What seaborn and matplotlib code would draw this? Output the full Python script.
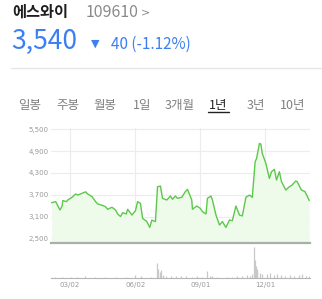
import matplotlib
matplotlib.use('Agg')
import matplotlib.pyplot as plt
from matplotlib.lines import Line2D
import seaborn as sns
import pandas as pd

# ---------------- data ----------------
price_dates = [
    '2020-02-05', '2020-02-11', '2020-02-17', '2020-02-20', '2020-02-21', '2020-02-26',
    '2020-02-28', '2020-03-05', '2020-03-10', '2020-03-13', '2020-03-19', '2020-03-24',
    '2020-03-27', '2020-04-02', '2020-04-07', '2020-04-10', '2020-04-16', '2020-04-21',
    '2020-04-24', '2020-04-30', '2020-05-05', '2020-05-08', '2020-05-12', '2020-05-15',
    '2020-05-20', '2020-05-22', '2020-05-28', '2020-06-02', '2020-06-05', '2020-06-09',
    '2020-06-12', '2020-06-18', '2020-06-22', '2020-06-25', '2020-06-30', '2020-07-03',
    '2020-07-07', '2020-07-10', '2020-07-16', '2020-07-21', '2020-07-24', '2020-07-28',
    '2020-07-31', '2020-08-06', '2020-08-11', '2020-08-14', '2020-08-20', '2020-08-21',
    '2020-08-27', '2020-09-01', '2020-09-04', '2020-09-09', '2020-09-11', '2020-09-16',
    '2020-09-18', '2020-09-23', '2020-09-28', '2020-10-02', '2020-10-07', '2020-10-12',
    '2020-10-16', '2020-10-21', '2020-10-26', '2020-10-30', '2020-11-04', '2020-11-09',
    '2020-11-13', '2020-11-17', '2020-11-19', '2020-11-23', '2020-11-25', '2020-11-27',
    '2020-12-02', '2020-12-07', '2020-12-10', '2020-12-14', '2020-12-17', '2020-12-21',
    '2020-12-24', '2020-12-30', '2021-01-04', '2021-01-08', '2021-01-13', '2021-01-15',
    '2021-01-21', '2021-01-26', '2021-02-01',
]
price_values = [
    3480, 3510, 3280, 3390, 3540, 3510,
    3555, 3630, 3720, 3690, 3740, 3780,
    3720, 3650, 3510, 3445, 3410, 3370,
    3300, 3355, 3280, 3170, 3100, 3205,
    3170, 3300, 3140, 3260, 3510, 3460,
    3050, 2960, 2800, 3000, 2960, 3920,
    3940, 3600, 3555, 3665, 3575, 3665,
    3600, 3630, 3785, 3850, 3555, 3300,
    3390, 3325, 3235, 3170, 3600, 3665,
    3555, 3140, 2865, 2960, 2800, 3005,
    2985, 3390, 3140, 3115, 3630, 3690,
    3630, 4610, 4700, 5115, 5095, 4840,
    4565, 4150, 4335, 4400, 4105, 4335,
    4060, 3830, 3920, 3970, 4080, 4060,
    3830, 3785, 3540,
]

vol_dates = [
    '2020-02-10', '2020-02-20', '2020-03-03', '2020-03-12', '2020-03-23', '2020-04-06',
    '2020-04-20', '2020-05-06', '2020-05-20', '2020-06-02', '2020-06-10', '2020-06-24',
    '2020-07-02', '2020-07-03', '2020-07-06', '2020-07-08', '2020-07-10', '2020-07-15',
    '2020-07-22', '2020-07-29', '2020-08-05', '2020-08-12', '2020-08-20', '2020-08-27',
    '2020-09-03', '2020-09-11', '2020-09-14', '2020-09-18', '2020-09-25', '2020-10-08',
    '2020-10-15', '2020-10-22', '2020-10-29', '2020-11-05', '2020-11-10', '2020-11-13',
    '2020-11-16', '2020-11-17', '2020-11-18', '2020-11-19', '2020-11-20', '2020-11-24',
    '2020-11-27', '2020-12-03', '2020-12-08', '2020-12-14', '2020-12-18', '2020-12-23',
    '2020-12-29', '2021-01-05', '2021-01-11', '2021-01-18', '2021-01-22', '2021-01-27',
    '2021-02-01',
]
vol_values = [
    60, 80, 100, 80, 120, 60,
    80, 60, 100, 250, 120, 100,
    1500, 900, 600, 800, 300, 200,
    150, 120, 150, 200, 100, 120,
    80, 700, 200, 150, 100, 80,
    100, 150, 120, 250, 200, 350,
    3100, 1800, 1200, 900, 600, 500,
    400, 350, 450, 300, 350, 250,
    200, 250, 200, 300, 400, 200,
    150,
]

y_ticks = [2500, 3100, 3700, 4300, 4900, 5500]
x_tick_dates = ['2020-03-02', '2020-06-02', '2020-09-01', '2020-12-01']
x_tick_labels = ['03/02', '06/02', '09/01', '12/01']
x_range = ['2020-02-04', '2021-02-02']

tabs = ['일봉', '주봉', '월봉', '1일', '3개월', '1년', '3년', '10년']
tab_x = [30, 67.5, 105, 142.5, 180, 218, 255.5, 293]
active_tab = '1년'

stock_name = '에스와이'
stock_code = '109610'
last_price = '3,540'
change_text = '40 (-1.12%)'

# ---------------- figure ----------------
sns.set_theme(style='white')
plt.rcParams['font.family'] = ['Noto Sans CJK KR', 'DejaVu Sans']

W, H = 322, 299
fig = plt.figure(figsize=(W / 100, H / 100), dpi=100)
fig.patch.set_facecolor('white')


def fx(x):
    return x / W


def fy(y):
    return 1 - y / H


BLUE = '#3b7ff2'
GREEN = '#5cc84b'
FILL = '#effbea'
GRID = '#ececec'
TICK = '#9a9a9a'

left, right = 50.7, 310
ax = fig.add_axes([fx(left), fy(243), fx(right) - fx(left), (243 - 128) / H])
axv = fig.add_axes([fx(left), fy(277.5), fx(right) - fx(left), 31.5 / H])

df = pd.DataFrame({'date': pd.to_datetime(price_dates), 'price': price_values})
vdf = pd.DataFrame({'date': pd.to_datetime(vol_dates), 'vol': vol_values})
xlo, xhi = pd.to_datetime(x_range)
ymin, ymax = 2370, 5540

ax.fill_between(df['date'], df['price'], ymin, color=FILL, lw=0, zorder=1)
sns.lineplot(data=df, x='date', y='price', ax=ax, color=GREEN, lw=1.0, zorder=3)

ax.set_xlim(xlo, xhi)
ax.set_ylim(ymin, ymax)
ax.set_yticks(y_ticks)
ax.set_yticklabels([f'{v:,}' for v in y_ticks], fontsize=5, color=TICK,
                   family='DejaVu Sans')
ax.set_xticks(pd.to_datetime(x_tick_dates))
ax.set_xticklabels([])
ax.tick_params(axis='both', length=0, pad=1.5)
ax.grid(True, color=GRID, lw=0.8, zorder=0)
ax.set_axisbelow(True)
for s in ['top', 'right', 'left']:
    ax.spines[s].set_visible(False)
ax.spines['bottom'].set_color('#a9b0a9')
ax.spines['bottom'].set_linewidth(1.6)
ax.set_xlabel('')
ax.set_ylabel('')
ax.set_facecolor('white')

# volume
axv.vlines(vdf['date'], 0, vdf['vol'], color='#c8c8c8', lw=0.9)
axv.set_xlim(xlo, xhi)
axv.set_ylim(0, 3150)
axv.set_yticks([])
axv.set_xticks(pd.to_datetime(x_tick_dates))
axv.set_xticklabels(x_tick_labels, fontsize=5, color=TICK, family='DejaVu Sans')
axv.tick_params(axis='x', length=0, pad=3.5)
for s in ['top', 'right', 'left']:
    axv.spines[s].set_visible(False)
axv.spines['bottom'].set_color('#b5b5b5')
axv.spines['bottom'].set_linewidth(0.8)
axv.set_facecolor('none')
axv.set_xlabel('')

# ---------------- header ----------------
fig.text(fx(12), fy(12), stock_name, fontsize=11, fontweight='bold', color='#1e1e1e',
         va='center', ha='left')
fig.text(fx(86), fy(12.5), stock_code, fontsize=11.5, color='#8a8a8a', va='center', ha='left')
fig.text(fx(141), fy(12.5), '>', fontsize=8, color='#8a8a8a', va='center', ha='left',
         family='DejaVu Sans')
fig.text(fx(11), fy(41.5), last_price, fontsize=19, color=BLUE, va='center', ha='left')
fig.text(fx(91), fy(44), '▼', fontsize=8, color=BLUE, va='center', ha='left',
         family='DejaVu Sans')
fig.text(fx(111), fy(44.5), change_text, fontsize=11, color=BLUE, va='center', ha='left')
fig.add_artist(Line2D([fx(11), 1], [fy(68), fy(68)], color='#e6e6e6', lw=1))

for t, x in zip(tabs, tab_x):
    active = t == active_tab
    fig.text(fx(x), fy(105.5), t, fontsize=9, color='#222222' if active else '#808080',
             va='center', ha='center')
fig.add_artist(Line2D([fx(208), fx(228.5)], [fy(112), fy(112)], color='#222222', lw=1))

fig.savefig('out.png', dpi=100, facecolor='white')
